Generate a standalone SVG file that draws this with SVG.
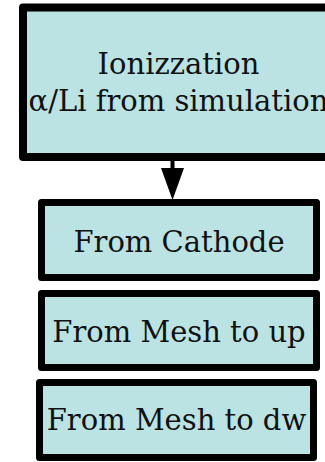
<svg xmlns="http://www.w3.org/2000/svg" width="325" height="462" viewBox="0 0 325 462">
<style>
.box{fill:#bbe3e3;stroke:#000;stroke-linejoin:round}
.lbl{font-family:"DejaVu Serif",serif;font-size:29px;fill:#111;text-anchor:middle}
</style>
<rect width="325" height="462" fill="#fff"/>
<g id="connectors">
<line x1="172.5" y1="160" x2="172.5" y2="170" stroke="#000" stroke-width="4"/>
<polygon points="161,168 184,168 172.5,200" fill="#000"/>
</g>
<g id="ionization">
<rect class="box" x="23" y="7.5" width="311" height="149.5" stroke-width="8"/>
<text class="lbl" x="178.5" y="74">Ionizzation</text>
<text class="lbl" x="178.5" y="111">α/Li from simulation</text>
</g>
<g id="cathode">
<rect class="box" x="41.5" y="202.5" width="275" height="75" stroke-width="7"/>
<text class="lbl" x="179" y="251.5">From Cathode</text>
</g>
<g id="mesh-up">
<rect class="box" x="41.5" y="293.5" width="275" height="74" stroke-width="7"/>
<text class="lbl" x="179" y="341.5">From Mesh to up</text>
</g>
<g id="mesh-dw">
<rect class="box" x="39.5" y="382.5" width="274" height="75" stroke-width="7"/>
<text class="lbl" x="176.5" y="430">From Mesh to dw</text>
</g>
</svg>
